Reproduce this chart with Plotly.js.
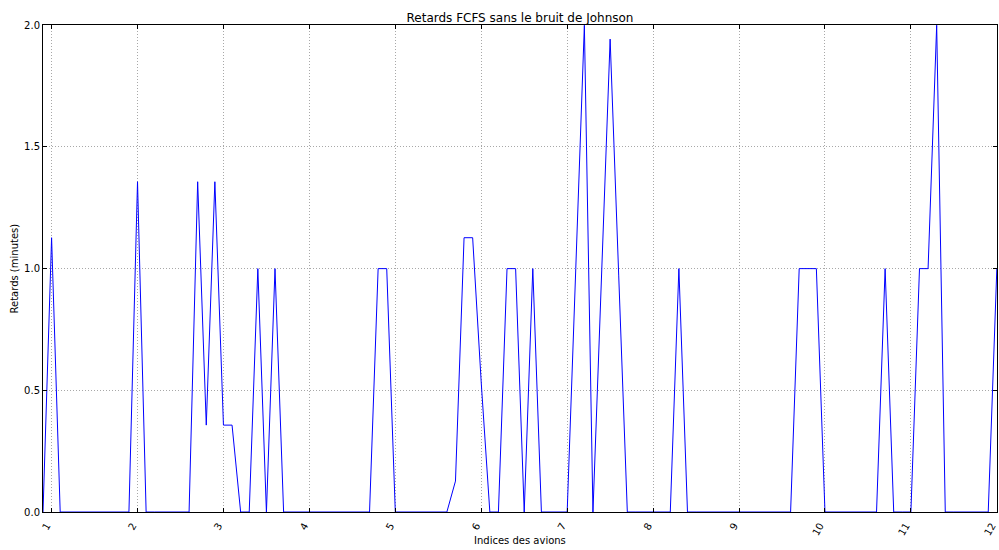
<!DOCTYPE html>
<html>
<head>
<meta charset="utf-8">
<script src="https://cdn.plot.ly/plotly-3.0.1.min.js"></script>
<style>html,body{margin:0;padding:0;background:#fff;}#chart{width:999px;height:550px;}</style>
</head>
<body>
<div id="chart"></div>
<script>
// x positions (aircraft index scale)
const indices = [
  0.9, 1.0, 1.1, 1.2, 1.3, 1.4, 1.5, 1.6, 1.7, 1.8, 1.9,
  2.0, 2.1, 2.2, 2.3, 2.4, 2.5, 2.6, 2.7, 2.8, 2.9,
  3.0, 3.1, 3.2, 3.3, 3.4, 3.5, 3.6, 3.7, 3.8, 3.9,
  4.0, 4.1, 4.2, 4.3, 4.4, 4.5, 4.6, 4.7, 4.8, 4.9,
  5.0, 5.1, 5.2, 5.3, 5.4, 5.5, 5.6, 5.7, 5.8, 5.9,
  6.0, 6.1, 6.2, 6.3, 6.4, 6.5, 6.6, 6.7, 6.8, 6.9,
  7.0, 7.1, 7.2, 7.3, 7.4, 7.5, 7.6, 7.7, 7.8, 7.9,
  8.0, 8.1, 8.2, 8.3, 8.4, 8.5, 8.6, 8.7, 8.8, 8.9,
  9.0, 9.1, 9.2, 9.3, 9.4, 9.5, 9.6, 9.7, 9.8, 9.9,
  10.0, 10.1, 10.2, 10.3, 10.4, 10.5, 10.6, 10.7, 10.8, 10.9,
  11.0, 11.1, 11.2, 11.3, 11.4, 11.5, 11.6, 11.7, 11.8, 11.9,
  12.0
];
// delays (minutes)
const retards = [
  0, 1.127, 0, 0, 0, 0, 0, 0, 0, 0, 0,
  1.357, 0, 0, 0, 0, 0, 0, 1.357, 0.357, 1.357,
  0.357, 0.357, 0, 0, 1.0, 0, 1.0, 0, 0, 0,
  0, 0, 0, 0, 0, 0, 0, 0, 1.0, 1.0,
  0, 0, 0, 0, 0, 0, 0, 0.127, 1.127, 1.127,
  0.53, 0, 0, 1.0, 1.0, 0, 1.0, 0, 0, 0,
  0, 1.0, 2.0, 0, 0.97, 1.943, 0.97, 0, 0, 0,
  0, 0, 0, 1.0, 0, 0, 0, 0, 0, 0,
  0, 0, 0, 0, 0, 0, 0, 1.0, 1.0, 1.0,
  0, 0, 0, 0, 0, 0, 0, 1.0, 0, 0,
  0, 1.0, 1.0, 2.0, 0, 0, 0, 0, 0, 0,
  1.0
];
const xTicks = [1, 2, 3, 4, 5, 6, 7, 8, 9, 10, 11, 12];
const yTicks = [0.0, 0.5, 1.0, 1.5, 2.0];

const font = 'DejaVu Sans';

const trace = {
  x: indices, y: retards, type: 'scatter', mode: 'lines',
  line: {color: '#0000ff', width: 1}, hoverinfo: 'skip', cliponaxis: false
};

const axisCommon = {
  showline: true, linecolor: '#000', linewidth: 1, mirror: 'ticks',
  ticks: 'inside', ticklen: 4, tickcolor: '#000',
  showgrid: true, gridcolor: '#a8a8a8', griddash: '1px,2px', gridwidth: 1,
  zeroline: false, tickfont: {family: font, size: 10, color: '#000'},
  automargin: false, ticklabeloverflow: 'allow'
};

const layout = {
  width: 999, height: 550,
  margin: {l: 43, r: 2, t: 25, b: 38},
  paper_bgcolor: '#fff', plot_bgcolor: '#fff',
  showlegend: false,
  title: {text: 'Retards FCFS sans le bruit de Johnson', font: {family: font, size: 12, color: '#000'},
          x: 520/999, xanchor: 'center', xref: 'container', y: 1 - 18/550, yanchor: 'middle', yref: 'container'},
  xaxis: Object.assign({}, axisCommon, {
    range: [0.9, 12.002], tickmode: 'array', tickvals: xTicks, ticktext: xTicks.map(String),
    tickangle: -60, ticklabelshift: -5, ticklabelstandoff: 3
  }),
  yaxis: Object.assign({}, axisCommon, {
    range: [0, 2.001], tickmode: 'array', tickvals: yTicks, ticktext: yTicks.map(v => v.toFixed(1))
  }),
  annotations: [
    {text: 'Indices des avions', xref: 'paper', yref: 'paper', x: 0.5, y: -28/487, xanchor: 'center', yanchor: 'middle',
     showarrow: false, font: {family: font, size: 10, color: '#000'}},
    {text: 'Retards (minutes)', xref: 'paper', yref: 'paper', x: -29/954, y: 0.5, xanchor: 'center', yanchor: 'middle',
     textangle: -90, showarrow: false, font: {family: font, size: 10, color: '#000'}}
  ]
};

Plotly.newPlot('chart', [trace], layout, {displayModeBar: false, staticPlot: true});
</script>
</body>
</html>
